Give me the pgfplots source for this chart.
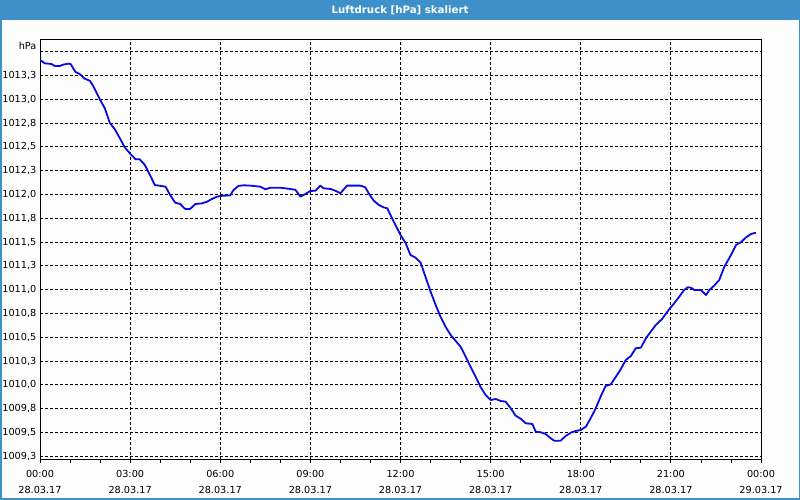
\documentclass[border=0pt]{standalone}
\usepackage{pgfplots}
\pgfplotsset{compat=1.18}
\usepackage{fontspec}
\setmainfont{DejaVu Sans}
\definecolor{titleblue}{RGB}{62,145,200}
\definecolor{curveblue}{RGB}{10,10,225}
\definecolor{bgc}{RGB}{252,253,252}
\pgfplotstableread{
h v
0.00 1013.413
0.16 1013.378
0.38 1013.371
0.49 1013.350
0.66 1013.350
0.77 1013.364
0.93 1013.374
1.02 1013.371
1.18 1013.287
1.32 1013.266
1.49 1013.216
1.66 1013.195
1.77 1013.140
1.99 1013.000
2.16 1012.905
2.32 1012.754
2.49 1012.685
2.66 1012.590
2.82 1012.496
3.04 1012.415
3.18 1012.370
3.32 1012.370
3.49 1012.310
3.66 1012.205
3.82 1012.100
4.02 1012.090
4.18 1012.082
4.33 1011.995
4.50 1011.914
4.67 1011.900
4.83 1011.848
5.00 1011.848
5.17 1011.900
5.39 1011.907
5.56 1011.924
5.72 1011.953
5.89 1011.977
6.06 1011.987
6.33 1011.990
6.44 1012.047
6.61 1012.090
6.78 1012.097
7.00 1012.093
7.33 1012.082
7.50 1012.055
7.67 1012.071
8.00 1012.071
8.33 1012.058
8.50 1012.050
8.67 1011.977
8.83 1012.005
9.00 1012.037
9.17 1012.040
9.33 1012.093
9.44 1012.065
9.67 1012.058
9.83 1012.040
10.00 1012.013
10.22 1012.093
10.67 1012.093
10.83 1012.075
10.94 1012.013
11.11 1011.935
11.28 1011.890
11.44 1011.865
11.56 1011.855
11.72 1011.750
12.00 1011.575
12.17 1011.490
12.33 1011.365
12.50 1011.337
12.67 1011.284
12.83 1011.137
13.00 1010.980
13.17 1010.840
13.33 1010.717
13.50 1010.611
13.67 1010.524
13.83 1010.464
14.00 1010.401
14.17 1010.296
14.33 1010.191
14.50 1010.086
14.67 1009.975
14.83 1009.894
15.00 1009.841
15.17 1009.852
15.33 1009.831
15.50 1009.824
15.67 1009.754
15.83 1009.677
16.00 1009.645
16.17 1009.597
16.39 1009.589
16.50 1009.508
16.67 1009.502
16.83 1009.484
17.00 1009.439
17.11 1009.414
17.33 1009.414
17.50 1009.464
17.67 1009.498
17.83 1009.516
18.00 1009.526
18.17 1009.561
18.33 1009.649
18.50 1009.754
18.67 1009.883
18.83 1009.989
19.00 1010.006
19.17 1010.086
19.33 1010.164
19.50 1010.262
19.67 1010.304
19.83 1010.385
20.00 1010.391
20.17 1010.490
20.33 1010.559
20.50 1010.630
20.70 1010.690
20.94 1010.794
21.11 1010.857
21.28 1010.927
21.44 1010.997
21.56 1011.025
21.67 1011.021
21.78 1010.997
22.00 1010.997
22.17 1010.944
22.28 1010.997
22.44 1011.042
22.61 1011.102
22.78 1011.242
22.94 1011.330
23.06 1011.400
23.17 1011.470
23.33 1011.498
23.50 1011.550
23.67 1011.585
23.83 1011.599
}\pressure
\begin{document}
\begin{tikzpicture}[x=1pt,y=1pt]
\fill[bgc] (0,0) rectangle (800,500);
\fill[titleblue] (0,479.5) rectangle (800,500);
\draw[titleblue, line width=1.5pt] (0.75,0.75) rectangle (799.25,499.25);
\node[text=white, font=\fontsize{10.2}{12}\selectfont\bfseries, inner sep=0pt] at (400,489.3) {Luftdruck [hPa] skaliert};
\node[anchor=east, font=\fontsize{9.7}{11}\selectfont, inner sep=0pt] at (36.5,453.7) {hPa};
\begin{axis}[
  at={(40pt,40pt)}, anchor=south west,
  scale only axis, width=721pt, height=420pt,
  xmin=0, xmax=24, ymin=1009.211, ymax=1013.623,
  axis line style={black, line width=1pt},
  xtick={0,3,6,9,12,15,18,21,24},
  xticklabels={{00:00\\28.03.17},{03:00\\28.03.17},{06:00\\28.03.17},{09:00\\28.03.17},{12:00\\28.03.17},{15:00\\28.03.17},{18:00\\28.03.17},{21:00\\28.03.17},{00:00\\29.03.17}},
  minor x tick num=2,
  ytick={1009.25,1009.5,1009.75,1010,1010.25,1010.5,1010.75,1011,1011.25,1011.5,1011.75,1012,1012.25,1012.5,1012.75,1013,1013.25,1013.5},
  yticklabels={{1009,3},{1009,5},{1009,8},{1010,0},{1010,3},{1010,5},{1010,8},{1011,0},{1011,3},{1011,5},{1011,8},{1012,0},{1012,3},{1012,5},{1012,8},{1013,0},{1013,3},{}},
  xtick pos=bottom, ytick pos=left,
  tick align=outside,
  major tick length=3pt, minor tick length=3pt,
  xtick style={black, line width=0.8pt},
  minor x tick style={black, line width=0.8pt},
  ytick style={draw=none},
  grid=major,
  major grid style={black, line width=0.8pt, dash pattern=on 3pt off 2pt},
  xticklabel style={align=center, anchor=north, inner sep=0pt, yshift=-7.5pt, font=\fontsize{9.7}{15.5}\selectfont},
  yticklabel style={anchor=east, inner sep=0pt, xshift=-0.5pt, font=\fontsize{9.7}{11}\selectfont},
  clip=true,
]
\addplot[curveblue, line width=1.8pt, line join=round] table[x=h, y=v] {\pressure};
\end{axis}
\end{tikzpicture}
\end{document}
